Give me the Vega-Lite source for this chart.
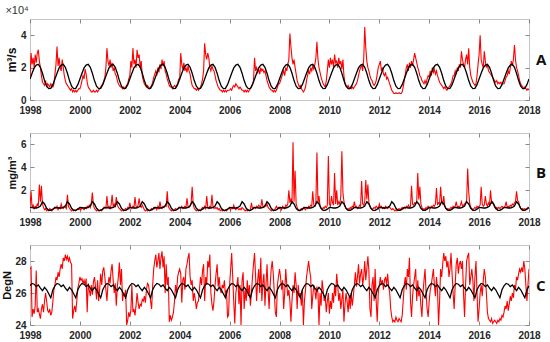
{
"$schema":"https://vega.github.io/schema/vega-lite/v6.json",
"background":"white",
"padding":{"left":1,"top":4,"right":0,"bottom":0},
"config":{"view":{"stroke":"#c4c4c4","strokeWidth":1},"font":"Liberation Sans",
"axis":{"grid":false,"domain":false,"tickColor":"#888","tickSize":-4,"labelFontSize":10,"labelFontWeight":"bold","labelColor":"#262626","labelFlush":false,"labelOverlap":false,"labelBound":false,"titleColor":"#111","titleFontWeight":"bold"},
"axisX":{"labelPadding":9},"axisY":{"labelPadding":8}},
"datasets":{
"red":[
{"t":1998,"a":1.3,"b":0.6,"c":27.5},{"t":1998.042,"a":2.9,"b":1.9,"c":27.6},{"t":1998.083,"a":2.2,"b":0.5,"c":24.5},{"t":1998.125,"a":2.6,"b":0.7,"c":25.0},{"t":1998.167,"a":2.0,"b":0.4,"c":24.7},{"t":1998.208,"a":2.8,"b":0.6,"c":25.2},{"t":1998.25,"a":2.3,"b":0.5,"c":27.4},{"t":1998.292,"a":2.9,"b":0.8,"c":24.8},{"t":1998.333,"a":3.1,"b":0.6,"c":25.0},{"t":1998.375,"a":2.4,"b":2.5,"c":24.7},{"t":1998.417,"a":2.0,"b":1.0,"c":24.4},{"t":1998.458,"a":1.5,"b":2.4,"c":25.0},{"t":1998.5,"a":1.1,"b":0.8,"c":25.3},{"t":1998.542,"a":1.0,"b":0.5,"c":24.8},{"t":1998.583,"a":0.9,"b":0.3,"c":25.5},{"t":1998.625,"a":1.2,"b":0.4,"c":26.0},{"t":1998.667,"a":0.8,"b":0.2,"c":25.5},{"t":1998.708,"a":1.0,"b":0.3,"c":24.9},{"t":1998.75,"a":0.9,"b":0.2,"c":24.8},{"t":1998.792,"a":0.8,"b":0.4,"c":25.0},{"t":1998.833,"a":1.0,"b":0.3,"c":24.6},{"t":1998.875,"a":0.9,"b":0.2,"c":24.8},{"t":1998.917,"a":0.8,"b":0.3,"c":25.5},{"t":1998.958,"a":1.0,"b":0.4,"c":26.2},
{"t":1999,"a":1.6,"b":0.5,"c":26.5},{"t":1999.042,"a":2.2,"b":0.4,"c":27.0},{"t":1999.083,"a":3.3,"b":0.6,"c":26.8},{"t":1999.125,"a":2.1,"b":0.3,"c":27.3},{"t":1999.167,"a":2.6,"b":0.5,"c":27.0},{"t":1999.208,"a":2.0,"b":0.4,"c":27.5},{"t":1999.25,"a":1.8,"b":0.8,"c":27.8},{"t":1999.292,"a":2.5,"b":0.5,"c":27.5},{"t":1999.333,"a":2.0,"b":0.4,"c":28.2},{"t":1999.375,"a":1.5,"b":0.6,"c":28.0},{"t":1999.417,"a":1.2,"b":0.5,"c":28.4},{"t":1999.458,"a":1.0,"b":0.4,"c":28.1},{"t":1999.5,"a":0.9,"b":1.6,"c":28.3},{"t":1999.542,"a":0.8,"b":0.6,"c":28.0},{"t":1999.583,"a":0.7,"b":0.4,"c":28.2},{"t":1999.625,"a":0.6,"b":0.3,"c":27.9},{"t":1999.667,"a":0.7,"b":0.2,"c":27.8},{"t":1999.708,"a":0.5,"b":0.3,"c":24.4},{"t":1999.75,"a":0.6,"b":0.2,"c":24.9},{"t":1999.792,"a":0.5,"b":0.3,"c":25.2},{"t":1999.833,"a":0.6,"b":0.2,"c":24.8},{"t":1999.875,"a":0.5,"b":0.3,"c":25.5},{"t":1999.917,"a":0.6,"b":0.4,"c":26.3},{"t":1999.958,"a":0.7,"b":0.3,"c":26.6},
{"t":2000,"a":0.7,"b":0.4,"c":27.0},{"t":2000.042,"a":0.9,"b":0.3,"c":26.8},{"t":2000.083,"a":1.2,"b":0.5,"c":26.9},{"t":2000.125,"a":1.5,"b":0.4,"c":26.6},{"t":2000.167,"a":1.3,"b":0.3,"c":26.8},{"t":2000.208,"a":1.9,"b":0.5,"c":26.5},{"t":2000.25,"a":1.6,"b":0.4,"c":26.9},{"t":2000.292,"a":1.1,"b":0.6,"c":24.8},{"t":2000.333,"a":0.8,"b":0.5,"c":26.6},{"t":2000.375,"a":0.7,"b":0.7,"c":26.2},{"t":2000.417,"a":0.6,"b":0.5,"c":25.8},{"t":2000.458,"a":0.5,"b":0.9,"c":26.5},{"t":2000.5,"a":0.5,"b":1.8,"c":25.9},{"t":2000.542,"a":0.6,"b":0.7,"c":26.7},{"t":2000.583,"a":0.5,"b":0.4,"c":27.0},{"t":2000.625,"a":0.5,"b":0.3,"c":26.4},{"t":2000.667,"a":0.6,"b":0.2,"c":25.6},{"t":2000.708,"a":0.5,"b":0.3,"c":26.8},{"t":2000.75,"a":0.6,"b":0.2,"c":25.5},{"t":2000.792,"a":0.7,"b":0.2,"c":26.2},{"t":2000.833,"a":0.8,"b":0.3,"c":27.2},{"t":2000.875,"a":0.9,"b":0.2,"c":26.5},{"t":2000.917,"a":1.0,"b":0.4,"c":27.4},{"t":2000.958,"a":1.2,"b":0.5,"c":27.6},
{"t":2001,"a":1.4,"b":0.5,"c":27.0},{"t":2001.042,"a":2.0,"b":0.4,"c":26.2},{"t":2001.083,"a":3.2,"b":1.5,"c":25.5},{"t":2001.125,"a":2.4,"b":0.5,"c":26.5},{"t":2001.167,"a":2.1,"b":0.6,"c":27.0},{"t":2001.208,"a":2.5,"b":0.4,"c":26.6},{"t":2001.25,"a":2.0,"b":0.7,"c":27.4},{"t":2001.292,"a":2.3,"b":1.6,"c":27.8},{"t":2001.333,"a":1.8,"b":0.6,"c":26.8},{"t":2001.375,"a":2.0,"b":0.8,"c":26.0},{"t":2001.417,"a":1.6,"b":0.5,"c":26.6},{"t":2001.458,"a":1.5,"b":1.4,"c":25.2},{"t":2001.5,"a":1.2,"b":0.7,"c":26.4},{"t":2001.542,"a":1.0,"b":0.5,"c":27.0},{"t":2001.583,"a":0.9,"b":0.4,"c":27.9},{"t":2001.625,"a":0.8,"b":0.3,"c":26.5},{"t":2001.667,"a":0.8,"b":0.2,"c":27.5},{"t":2001.708,"a":0.7,"b":0.3,"c":25.5},{"t":2001.75,"a":0.8,"b":0.2,"c":26.0},{"t":2001.792,"a":0.7,"b":0.3,"c":25.8},{"t":2001.833,"a":0.8,"b":0.4,"c":26.2},{"t":2001.875,"a":0.9,"b":0.3,"c":24.0},{"t":2001.917,"a":1.0,"b":0.5,"c":24.3},{"t":2001.958,"a":1.3,"b":0.4,"c":24.8},
{"t":2002,"a":1.5,"b":0.9,"c":24.5},{"t":2002.042,"a":2.4,"b":0.5,"c":24.9},{"t":2002.083,"a":2.0,"b":0.4,"c":26.5},{"t":2002.125,"a":3.2,"b":0.6,"c":24.8},{"t":2002.167,"a":2.2,"b":0.5,"c":25.0},{"t":2002.208,"a":2.5,"b":1.4,"c":24.6},{"t":2002.25,"a":2.0,"b":0.6,"c":25.2},{"t":2002.292,"a":3.1,"b":0.5,"c":26.0},{"t":2002.333,"a":2.6,"b":0.7,"c":25.4},{"t":2002.375,"a":2.8,"b":1.3,"c":25.0},{"t":2002.417,"a":2.0,"b":0.6,"c":25.3},{"t":2002.458,"a":2.4,"b":0.5,"c":25.2},{"t":2002.5,"a":1.5,"b":0.7,"c":25.6},{"t":2002.542,"a":1.2,"b":0.5,"c":25.5},{"t":2002.583,"a":1.0,"b":0.3,"c":25.8},{"t":2002.625,"a":0.9,"b":0.2,"c":25.4},{"t":2002.667,"a":0.8,"b":0.3,"c":26.2},{"t":2002.708,"a":0.9,"b":0.2,"c":26.6},{"t":2002.75,"a":0.8,"b":0.3,"c":26.5},{"t":2002.792,"a":0.7,"b":0.2,"c":26.0},{"t":2002.833,"a":0.8,"b":0.3,"c":25.5},{"t":2002.875,"a":0.9,"b":0.4,"c":25.0},{"t":2002.917,"a":1.1,"b":0.3,"c":26.5},{"t":2002.958,"a":1.4,"b":0.5,"c":27.5},
{"t":2003,"a":1.6,"b":0.4,"c":28.0},{"t":2003.042,"a":1.8,"b":0.5,"c":28.4},{"t":2003.083,"a":1.5,"b":0.3,"c":27.6},{"t":2003.125,"a":2.0,"b":0.6,"c":28.0},{"t":2003.167,"a":1.7,"b":0.4,"c":28.5},{"t":2003.208,"a":2.2,"b":1.0,"c":27.5},{"t":2003.25,"a":1.9,"b":0.5,"c":28.2},{"t":2003.292,"a":2.5,"b":0.4,"c":28.6},{"t":2003.333,"a":2.1,"b":0.6,"c":27.6},{"t":2003.375,"a":2.4,"b":0.5,"c":28.3},{"t":2003.417,"a":1.8,"b":0.7,"c":26.0},{"t":2003.458,"a":1.6,"b":0.6,"c":27.8},{"t":2003.5,"a":1.3,"b":1.9,"c":26.5},{"t":2003.542,"a":1.1,"b":0.6,"c":27.0},{"t":2003.583,"a":0.9,"b":0.4,"c":24.2},{"t":2003.625,"a":0.8,"b":0.3,"c":24.6},{"t":2003.667,"a":0.8,"b":0.2,"c":24.3},{"t":2003.708,"a":0.7,"b":0.3,"c":24.5},{"t":2003.75,"a":0.8,"b":0.2,"c":24.8},{"t":2003.792,"a":0.9,"b":0.3,"c":25.5},{"t":2003.833,"a":0.8,"b":0.4,"c":26.5},{"t":2003.875,"a":0.9,"b":0.3,"c":26.0},{"t":2003.917,"a":1.0,"b":0.4,"c":27.0},{"t":2003.958,"a":1.3,"b":0.5,"c":27.3},
{"t":2004,"a":1.3,"b":0.5,"c":27.5},{"t":2004.042,"a":2.9,"b":0.4,"c":27.2},{"t":2004.083,"a":2.2,"b":0.6,"c":25.4},{"t":2004.125,"a":1.9,"b":0.4,"c":26.8},{"t":2004.167,"a":2.3,"b":0.5,"c":27.0},{"t":2004.208,"a":1.8,"b":0.6,"c":26.2},{"t":2004.25,"a":2.0,"b":0.5,"c":27.5},{"t":2004.292,"a":1.7,"b":1.3,"c":27.8},{"t":2004.333,"a":2.1,"b":0.6,"c":28.2},{"t":2004.375,"a":1.8,"b":0.5,"c":28.5},{"t":2004.417,"a":1.6,"b":0.7,"c":27.0},{"t":2004.458,"a":1.2,"b":0.9,"c":26.5},{"t":2004.5,"a":0.9,"b":2.3,"c":26.8},{"t":2004.542,"a":0.8,"b":0.8,"c":25.5},{"t":2004.583,"a":0.7,"b":0.4,"c":26.0},{"t":2004.625,"a":0.7,"b":0.3,"c":25.6},{"t":2004.667,"a":0.6,"b":0.2,"c":25.0},{"t":2004.708,"a":0.7,"b":0.3,"c":25.4},{"t":2004.75,"a":0.6,"b":0.2,"c":25.5},{"t":2004.792,"a":0.7,"b":0.3,"c":26.2},{"t":2004.833,"a":0.8,"b":0.2,"c":27.0},{"t":2004.875,"a":1.0,"b":0.4,"c":26.5},{"t":2004.917,"a":1.3,"b":0.5,"c":27.4},{"t":2004.958,"a":1.8,"b":0.4,"c":27.8},
{"t":2005,"a":3.5,"b":0.6,"c":25.5},{"t":2005.042,"a":2.8,"b":0.4,"c":27.0},{"t":2005.083,"a":2.5,"b":1.5,"c":26.5},{"t":2005.125,"a":2.9,"b":0.5,"c":28.0},{"t":2005.167,"a":2.6,"b":0.4,"c":27.6},{"t":2005.208,"a":2.0,"b":0.6,"c":28.4},{"t":2005.25,"a":1.8,"b":0.5,"c":26.0},{"t":2005.292,"a":2.1,"b":1.6,"c":25.3},{"t":2005.333,"a":1.9,"b":0.6,"c":24.9},{"t":2005.375,"a":1.8,"b":0.4,"c":25.5},{"t":2005.417,"a":1.5,"b":0.5,"c":26.5},{"t":2005.458,"a":1.2,"b":0.4,"c":27.2},{"t":2005.5,"a":1.0,"b":0.5,"c":27.8},{"t":2005.542,"a":0.8,"b":0.3,"c":26.4},{"t":2005.583,"a":0.7,"b":0.4,"c":27.0},{"t":2005.625,"a":0.6,"b":0.2,"c":26.2},{"t":2005.667,"a":0.6,"b":0.3,"c":26.0},{"t":2005.708,"a":0.5,"b":0.2,"c":26.5},{"t":2005.75,"a":0.6,"b":0.3,"c":26.3},{"t":2005.792,"a":0.5,"b":0.2,"c":26.8},{"t":2005.833,"a":0.6,"b":0.3,"c":25.8},{"t":2005.875,"a":0.5,"b":0.2,"c":26.2},{"t":2005.917,"a":0.6,"b":0.3,"c":24.5},{"t":2005.958,"a":0.6,"b":0.4,"c":24.6},
{"t":2006,"a":0.6,"b":0.4,"c":26.5},{"t":2006.042,"a":0.7,"b":0.3,"c":27.5},{"t":2006.083,"a":0.6,"b":0.5,"c":28.5},{"t":2006.125,"a":0.8,"b":0.4,"c":27.0},{"t":2006.167,"a":0.9,"b":0.7,"c":25.4},{"t":2006.208,"a":0.8,"b":0.4,"c":24.1},{"t":2006.25,"a":1.0,"b":0.3,"c":26.0},{"t":2006.292,"a":0.9,"b":0.5,"c":26.5},{"t":2006.333,"a":0.8,"b":0.4,"c":27.0},{"t":2006.375,"a":0.7,"b":0.3,"c":25.3},{"t":2006.417,"a":0.8,"b":0.4,"c":26.5},{"t":2006.458,"a":0.7,"b":0.3,"c":24.0},{"t":2006.5,"a":0.6,"b":0.5,"c":26.8},{"t":2006.542,"a":0.6,"b":0.4,"c":27.3},{"t":2006.583,"a":0.5,"b":0.3,"c":25.0},{"t":2006.625,"a":0.6,"b":0.2,"c":26.2},{"t":2006.667,"a":0.5,"b":0.3,"c":25.5},{"t":2006.708,"a":0.6,"b":0.2,"c":26.8},{"t":2006.75,"a":0.5,"b":0.3,"c":25.8},{"t":2006.792,"a":0.6,"b":0.2,"c":26.5},{"t":2006.833,"a":0.7,"b":0.3,"c":25.2},{"t":2006.875,"a":0.8,"b":0.9,"c":26.0},{"t":2006.917,"a":1.0,"b":0.4,"c":27.0},{"t":2006.958,"a":1.2,"b":0.5,"c":27.8},
{"t":2007,"a":2.6,"b":0.5,"c":28.5},{"t":2007.042,"a":1.8,"b":0.4,"c":27.0},{"t":2007.083,"a":2.0,"b":0.6,"c":25.5},{"t":2007.125,"a":1.7,"b":0.5,"c":26.8},{"t":2007.167,"a":1.9,"b":0.7,"c":27.5},{"t":2007.208,"a":1.6,"b":0.6,"c":26.0},{"t":2007.25,"a":2.0,"b":0.5,"c":28.2},{"t":2007.292,"a":1.8,"b":1.2,"c":25.5},{"t":2007.333,"a":1.9,"b":0.6,"c":26.6},{"t":2007.375,"a":1.7,"b":0.5,"c":27.2},{"t":2007.417,"a":1.8,"b":0.7,"c":25.2},{"t":2007.458,"a":1.5,"b":0.6,"c":26.5},{"t":2007.5,"a":1.2,"b":0.8,"c":27.8},{"t":2007.542,"a":1.0,"b":0.5,"c":26.2},{"t":2007.583,"a":0.8,"b":0.4,"c":25.0},{"t":2007.625,"a":0.7,"b":0.3,"c":26.5},{"t":2007.667,"a":0.6,"b":0.2,"c":27.5},{"t":2007.708,"a":0.6,"b":0.3,"c":28.0},{"t":2007.75,"a":0.5,"b":0.2,"c":27.2},{"t":2007.792,"a":0.6,"b":0.3,"c":26.0},{"t":2007.833,"a":0.5,"b":0.4,"c":24.8},{"t":2007.875,"a":0.6,"b":0.6,"c":24.5},{"t":2007.917,"a":0.8,"b":0.4,"c":26.5},{"t":2007.958,"a":1.0,"b":0.5,"c":27.0},
{"t":2008,"a":1.0,"b":0.4,"c":27.5},{"t":2008.042,"a":1.2,"b":0.5,"c":27.0},{"t":2008.083,"a":1.4,"b":0.3,"c":26.2},{"t":2008.125,"a":1.6,"b":0.6,"c":26.8},{"t":2008.167,"a":1.8,"b":0.5,"c":25.0},{"t":2008.208,"a":1.5,"b":0.4,"c":26.0},{"t":2008.25,"a":2.0,"b":0.7,"c":27.5},{"t":2008.292,"a":1.8,"b":0.6,"c":26.5},{"t":2008.333,"a":2.2,"b":0.8,"c":25.8},{"t":2008.375,"a":2.5,"b":2.0,"c":26.2},{"t":2008.417,"a":4.1,"b":0.9,"c":25.5},{"t":2008.458,"a":3.3,"b":1.2,"c":24.2},{"t":2008.5,"a":2.6,"b":0.8,"c":25.5},{"t":2008.542,"a":2.2,"b":6.2,"c":26.5},{"t":2008.583,"a":2.5,"b":1.0,"c":26.0},{"t":2008.625,"a":2.0,"b":3.7,"c":27.3},{"t":2008.667,"a":1.6,"b":0.8,"c":26.5},{"t":2008.708,"a":1.2,"b":0.5,"c":25.0},{"t":2008.75,"a":1.0,"b":0.3,"c":26.5},{"t":2008.792,"a":0.8,"b":0.2,"c":25.8},{"t":2008.833,"a":0.9,"b":0.3,"c":26.0},{"t":2008.875,"a":0.7,"b":0.4,"c":25.2},{"t":2008.917,"a":0.6,"b":0.3,"c":26.2},{"t":2008.958,"a":0.5,"b":0.5,"c":24.0},
{"t":2009,"a":0.6,"b":0.4,"c":25.5},{"t":2009.042,"a":0.8,"b":0.3,"c":26.2},{"t":2009.083,"a":1.2,"b":0.5,"c":27.0},{"t":2009.125,"a":1.5,"b":0.4,"c":27.5},{"t":2009.167,"a":1.8,"b":0.6,"c":28.0},{"t":2009.208,"a":1.6,"b":0.5,"c":27.4},{"t":2009.25,"a":2.0,"b":0.7,"c":27.0},{"t":2009.292,"a":1.8,"b":0.6,"c":25.0},{"t":2009.333,"a":2.1,"b":1.9,"c":25.8},{"t":2009.375,"a":1.9,"b":0.7,"c":26.5},{"t":2009.417,"a":2.2,"b":0.6,"c":26.2},{"t":2009.458,"a":2.6,"b":0.8,"c":25.6},{"t":2009.5,"a":3.6,"b":5.3,"c":26.4},{"t":2009.542,"a":2.5,"b":0.9,"c":26.0},{"t":2009.583,"a":2.0,"b":1.5,"c":24.0},{"t":2009.625,"a":1.7,"b":0.6,"c":26.0},{"t":2009.667,"a":1.4,"b":0.4,"c":25.2},{"t":2009.708,"a":1.2,"b":0.3,"c":26.8},{"t":2009.75,"a":1.0,"b":0.5,"c":26.2},{"t":2009.792,"a":0.9,"b":0.4,"c":25.5},{"t":2009.833,"a":0.8,"b":0.6,"c":25.8},{"t":2009.875,"a":1.2,"b":0.5,"c":24.8},{"t":2009.917,"a":1.8,"b":0.7,"c":25.5},{"t":2009.958,"a":2.5,"b":5.0,"c":26.0},
{"t":2010,"a":2.0,"b":0.8,"c":24.7},{"t":2010.042,"a":2.6,"b":0.6,"c":25.5},{"t":2010.083,"a":2.2,"b":1.5,"c":25.0},{"t":2010.125,"a":2.5,"b":0.9,"c":26.0},{"t":2010.167,"a":2.0,"b":0.7,"c":25.4},{"t":2010.208,"a":2.8,"b":3.5,"c":26.5},{"t":2010.25,"a":2.3,"b":0.8,"c":25.8},{"t":2010.292,"a":2.4,"b":2.0,"c":27.2},{"t":2010.333,"a":2.0,"b":0.7,"c":26.5},{"t":2010.375,"a":2.6,"b":1.0,"c":25.5},{"t":2010.417,"a":2.2,"b":0.8,"c":26.0},{"t":2010.458,"a":2.4,"b":1.5,"c":25.0},{"t":2010.5,"a":1.9,"b":5.4,"c":25.6},{"t":2010.542,"a":2.5,"b":1.8,"c":26.2},{"t":2010.583,"a":1.5,"b":1.0,"c":24.2},{"t":2010.625,"a":1.0,"b":0.6,"c":25.3},{"t":2010.667,"a":0.9,"b":0.4,"c":26.0},{"t":2010.708,"a":0.8,"b":0.3,"c":25.5},{"t":2010.75,"a":0.9,"b":0.4,"c":24.8},{"t":2010.792,"a":0.7,"b":0.3,"c":25.8},{"t":2010.833,"a":0.8,"b":0.5,"c":25.0},{"t":2010.875,"a":0.7,"b":0.4,"c":26.0},{"t":2010.917,"a":0.8,"b":0.6,"c":25.2},{"t":2010.958,"a":0.7,"b":0.5,"c":25.8},
{"t":2011,"a":0.8,"b":1.0,"c":26.5},{"t":2011.042,"a":0.9,"b":0.5,"c":27.3},{"t":2011.083,"a":1.0,"b":0.6,"c":26.4},{"t":2011.125,"a":1.2,"b":0.4,"c":27.0},{"t":2011.167,"a":1.5,"b":0.5,"c":27.8},{"t":2011.208,"a":1.8,"b":0.7,"c":26.6},{"t":2011.25,"a":2.0,"b":0.6,"c":27.2},{"t":2011.292,"a":2.2,"b":2.8,"c":27.5},{"t":2011.333,"a":1.8,"b":0.8,"c":26.5},{"t":2011.375,"a":2.5,"b":0.7,"c":27.0},{"t":2011.417,"a":4.5,"b":1.0,"c":28.0},{"t":2011.458,"a":3.2,"b":2.9,"c":26.8},{"t":2011.5,"a":2.4,"b":1.2,"c":27.5},{"t":2011.542,"a":2.0,"b":2.5,"c":28.3},{"t":2011.583,"a":1.8,"b":0.9,"c":27.4},{"t":2011.625,"a":1.5,"b":0.6,"c":25.0},{"t":2011.667,"a":1.3,"b":0.4,"c":24.5},{"t":2011.708,"a":1.2,"b":0.3,"c":26.5},{"t":2011.75,"a":1.0,"b":0.4,"c":27.0},{"t":2011.792,"a":0.9,"b":0.5,"c":25.5},{"t":2011.833,"a":1.0,"b":0.4,"c":27.5},{"t":2011.875,"a":1.2,"b":0.6,"c":25.5},{"t":2011.917,"a":1.6,"b":0.5,"c":24.2},{"t":2011.958,"a":2.0,"b":0.4,"c":26.0},
{"t":2012,"a":2.2,"b":0.8,"c":26.5},{"t":2012.042,"a":2.4,"b":0.5,"c":27.0},{"t":2012.083,"a":1.8,"b":0.6,"c":26.5},{"t":2012.125,"a":2.0,"b":0.4,"c":26.8},{"t":2012.167,"a":1.6,"b":0.5,"c":26.2},{"t":2012.208,"a":1.5,"b":0.4,"c":26.8},{"t":2012.25,"a":1.7,"b":0.6,"c":27.0},{"t":2012.292,"a":1.3,"b":0.5,"c":26.5},{"t":2012.333,"a":1.4,"b":0.4,"c":27.2},{"t":2012.375,"a":1.2,"b":0.5,"c":26.4},{"t":2012.417,"a":1.0,"b":0.5,"c":26.0},{"t":2012.458,"a":0.8,"b":0.4,"c":25.0},{"t":2012.5,"a":0.6,"b":0.3,"c":24.5},{"t":2012.542,"a":0.5,"b":0.4,"c":24.2},{"t":2012.583,"a":0.4,"b":0.3,"c":24.3},{"t":2012.625,"a":0.4,"b":0.2,"c":24.2},{"t":2012.667,"a":0.45,"b":0.3,"c":24.5},{"t":2012.708,"a":0.4,"b":0.2,"c":24.3},{"t":2012.75,"a":0.4,"b":0.3,"c":24.2},{"t":2012.792,"a":0.45,"b":0.4,"c":24.4},{"t":2012.833,"a":0.4,"b":0.3,"c":24.3},{"t":2012.875,"a":0.4,"b":0.4,"c":24.2},{"t":2012.917,"a":0.5,"b":0.5,"c":24.6},{"t":2012.958,"a":0.8,"b":0.4,"c":25.5},
{"t":2013,"a":1.2,"b":0.5,"c":26.5},{"t":2013.042,"a":1.6,"b":0.4,"c":27.0},{"t":2013.083,"a":2.0,"b":0.6,"c":26.2},{"t":2013.125,"a":2.2,"b":0.5,"c":27.5},{"t":2013.167,"a":1.8,"b":0.7,"c":27.0},{"t":2013.208,"a":2.3,"b":0.5,"c":28.2},{"t":2013.25,"a":2.0,"b":0.6,"c":25.5},{"t":2013.292,"a":2.4,"b":2.4,"c":24.5},{"t":2013.333,"a":2.1,"b":0.8,"c":25.8},{"t":2013.375,"a":2.5,"b":0.7,"c":26.5},{"t":2013.417,"a":2.9,"b":0.9,"c":27.0},{"t":2013.458,"a":2.6,"b":0.8,"c":27.5},{"t":2013.5,"a":2.3,"b":1.0,"c":25.5},{"t":2013.542,"a":2.0,"b":3.5,"c":26.8},{"t":2013.583,"a":1.8,"b":1.2,"c":25.8},{"t":2013.625,"a":1.5,"b":2.3,"c":26.2},{"t":2013.667,"a":1.4,"b":0.8,"c":25.2},{"t":2013.708,"a":1.2,"b":0.5,"c":24.5},{"t":2013.75,"a":1.1,"b":0.3,"c":26.0},{"t":2013.792,"a":1.0,"b":0.4,"c":26.8},{"t":2013.833,"a":1.2,"b":0.3,"c":27.5},{"t":2013.875,"a":1.0,"b":0.5,"c":26.0},{"t":2013.917,"a":1.3,"b":0.4,"c":25.0},{"t":2013.958,"a":1.5,"b":0.6,"c":24.5},
{"t":2014,"a":1.4,"b":0.5,"c":25.5},{"t":2014.042,"a":1.8,"b":0.4,"c":26.2},{"t":2014.083,"a":1.5,"b":0.6,"c":26.5},{"t":2014.125,"a":2.0,"b":0.5,"c":27.0},{"t":2014.167,"a":1.7,"b":0.7,"c":27.5},{"t":2014.208,"a":1.9,"b":0.6,"c":26.5},{"t":2014.25,"a":1.6,"b":0.8,"c":25.8},{"t":2014.292,"a":1.8,"b":2.2,"c":27.0},{"t":2014.333,"a":1.5,"b":0.7,"c":26.2},{"t":2014.375,"a":1.3,"b":0.9,"c":24.0},{"t":2014.417,"a":1.1,"b":0.8,"c":25.5},{"t":2014.458,"a":1.0,"b":2.3,"c":27.5},{"t":2014.5,"a":0.9,"b":1.0,"c":27.0},{"t":2014.542,"a":0.8,"b":0.8,"c":27.8},{"t":2014.583,"a":0.7,"b":1.5,"c":28.5},{"t":2014.625,"a":0.8,"b":0.6,"c":28.0},{"t":2014.667,"a":0.7,"b":0.4,"c":28.3},{"t":2014.708,"a":0.6,"b":0.3,"c":27.6},{"t":2014.75,"a":0.7,"b":0.4,"c":28.0},{"t":2014.792,"a":0.8,"b":0.3,"c":27.0},{"t":2014.833,"a":0.9,"b":0.4,"c":27.5},{"t":2014.875,"a":1.0,"b":0.5,"c":28.5},{"t":2014.917,"a":1.2,"b":0.4,"c":27.2},{"t":2014.958,"a":1.5,"b":0.6,"c":26.0},
{"t":2015,"a":1.5,"b":0.5,"c":25.0},{"t":2015.042,"a":1.8,"b":0.6,"c":26.5},{"t":2015.083,"a":1.6,"b":1.0,"c":27.8},{"t":2015.125,"a":2.0,"b":0.5,"c":28.2},{"t":2015.167,"a":1.8,"b":0.6,"c":27.2},{"t":2015.208,"a":2.2,"b":0.5,"c":27.8},{"t":2015.25,"a":2.0,"b":0.7,"c":28.0},{"t":2015.292,"a":3.0,"b":1.0,"c":27.5},{"t":2015.333,"a":2.5,"b":0.6,"c":28.0},{"t":2015.375,"a":2.2,"b":0.7,"c":26.0},{"t":2015.417,"a":2.0,"b":0.8,"c":24.5},{"t":2015.458,"a":2.5,"b":0.9,"c":26.5},{"t":2015.5,"a":2.8,"b":1.1,"c":28.0},{"t":2015.542,"a":2.2,"b":3.9,"c":28.3},{"t":2015.583,"a":3.2,"b":1.9,"c":28.5},{"t":2015.625,"a":2.0,"b":0.8,"c":26.5},{"t":2015.667,"a":1.5,"b":0.5,"c":27.0},{"t":2015.708,"a":1.3,"b":0.4,"c":27.5},{"t":2015.75,"a":1.1,"b":0.3,"c":26.8},{"t":2015.792,"a":1.0,"b":0.4,"c":25.5},{"t":2015.833,"a":0.9,"b":0.5,"c":27.0},{"t":2015.875,"a":1.0,"b":0.4,"c":28.0},{"t":2015.917,"a":1.5,"b":0.6,"c":26.0},{"t":2015.958,"a":2.2,"b":0.5,"c":24.2},
{"t":2016,"a":2.8,"b":0.6,"c":25.0},{"t":2016.042,"a":4.0,"b":0.7,"c":26.0},{"t":2016.083,"a":2.5,"b":2.3,"c":26.5},{"t":2016.125,"a":2.2,"b":0.8,"c":25.8},{"t":2016.167,"a":2.0,"b":0.6,"c":26.8},{"t":2016.208,"a":3.0,"b":0.7,"c":27.5},{"t":2016.25,"a":2.4,"b":1.5,"c":27.0},{"t":2016.292,"a":2.0,"b":0.8,"c":26.0},{"t":2016.333,"a":2.2,"b":0.6,"c":24.8},{"t":2016.375,"a":1.8,"b":0.9,"c":24.4},{"t":2016.417,"a":1.7,"b":0.7,"c":24.3},{"t":2016.458,"a":1.6,"b":2.0,"c":24.2},{"t":2016.5,"a":1.5,"b":0.9,"c":24.4},{"t":2016.542,"a":1.4,"b":1.0,"c":24.1},{"t":2016.583,"a":1.3,"b":0.7,"c":24.2},{"t":2016.625,"a":1.2,"b":0.5,"c":24.3},{"t":2016.667,"a":1.1,"b":0.4,"c":24.2},{"t":2016.708,"a":1.2,"b":0.5,"c":24.1},{"t":2016.75,"a":1.0,"b":0.4,"c":24.3},{"t":2016.792,"a":1.1,"b":0.5,"c":24.2},{"t":2016.833,"a":1.0,"b":0.4,"c":24.4},{"t":2016.875,"a":1.1,"b":0.5,"c":24.3},{"t":2016.917,"a":1.0,"b":0.6,"c":24.6},{"t":2016.958,"a":1.0,"b":0.5,"c":24.5},
{"t":2017,"a":1.0,"b":0.5,"c":24.8},{"t":2017.042,"a":1.2,"b":0.6,"c":25.2},{"t":2017.083,"a":1.4,"b":1.0,"c":25.0},{"t":2017.125,"a":1.5,"b":0.5,"c":25.5},{"t":2017.167,"a":1.8,"b":0.6,"c":24.9},{"t":2017.208,"a":1.6,"b":0.5,"c":25.3},{"t":2017.25,"a":2.0,"b":0.7,"c":25.8},{"t":2017.292,"a":2.4,"b":0.6,"c":25.5},{"t":2017.333,"a":2.1,"b":0.8,"c":26.0},{"t":2017.375,"a":2.5,"b":0.7,"c":25.7},{"t":2017.417,"a":3.4,"b":0.9,"c":26.5},{"t":2017.458,"a":2.5,"b":1.0,"c":26.2},{"t":2017.5,"a":2.0,"b":1.9,"c":27.0},{"t":2017.542,"a":1.8,"b":1.1,"c":26.8},{"t":2017.583,"a":1.5,"b":1.0,"c":27.2},{"t":2017.625,"a":1.2,"b":0.6,"c":27.5},{"t":2017.667,"a":1.0,"b":0.4,"c":27.3},{"t":2017.708,"a":0.9,"b":0.3,"c":27.6},{"t":2017.75,"a":0.8,"b":0.4,"c":27.3},{"t":2017.792,"a":0.7,"b":0.3,"c":28.0},{"t":2017.833,"a":0.8,"b":0.4,"c":27.5},{"t":2017.875,"a":0.7,"b":0.3,"c":26.5},{"t":2017.917,"a":0.6,"b":0.4,"c":25.5},{"t":2017.958,"a":0.7,"b":0.5,"c":26.5},
{"t":2018,"a":0.6,"b":0.4,"c":27.5}
],
"black":[
{"t":1998,"a":1.3,"b":0.5,"c":26.45},{"t":1998.083,"a":1.65,"b":0.48,"c":26.6},{"t":1998.167,"a":1.98,"b":0.45,"c":26.55},{"t":1998.25,"a":2.16,"b":0.45,"c":26.4},{"t":1998.333,"a":2.2,"b":0.5,"c":26.5},{"t":1998.417,"a":2.02,"b":0.62,"c":26.3},{"t":1998.5,"a":1.65,"b":1.0,"c":26.15},{"t":1998.583,"a":1.2,"b":0.8,"c":26.35},{"t":1998.667,"a":0.85,"b":0.42,"c":26.2},{"t":1998.75,"a":0.7,"b":0.25,"c":25.95},{"t":1998.833,"a":0.72,"b":0.25,"c":25.7},{"t":1998.917,"a":0.95,"b":0.35,"c":26.2},
{"t":1999,"a":1.3,"b":0.5,"c":26.45},{"t":1999.083,"a":1.65,"b":0.48,"c":26.6},{"t":1999.167,"a":1.98,"b":0.45,"c":26.55},{"t":1999.25,"a":2.16,"b":0.45,"c":26.4},{"t":1999.333,"a":2.2,"b":0.5,"c":26.5},{"t":1999.417,"a":2.02,"b":0.62,"c":26.3},{"t":1999.5,"a":1.65,"b":1.0,"c":26.15},{"t":1999.583,"a":1.2,"b":0.8,"c":26.35},{"t":1999.667,"a":0.85,"b":0.42,"c":26.2},{"t":1999.75,"a":0.7,"b":0.25,"c":25.95},{"t":1999.833,"a":0.72,"b":0.25,"c":25.7},{"t":1999.917,"a":0.95,"b":0.35,"c":26.2},
{"t":2000,"a":1.3,"b":0.5,"c":26.45},{"t":2000.083,"a":1.65,"b":0.48,"c":26.6},{"t":2000.167,"a":1.98,"b":0.45,"c":26.55},{"t":2000.25,"a":2.16,"b":0.45,"c":26.4},{"t":2000.333,"a":2.2,"b":0.5,"c":26.5},{"t":2000.417,"a":2.02,"b":0.62,"c":26.3},{"t":2000.5,"a":1.65,"b":1.0,"c":26.15},{"t":2000.583,"a":1.2,"b":0.8,"c":26.35},{"t":2000.667,"a":0.85,"b":0.42,"c":26.2},{"t":2000.75,"a":0.7,"b":0.25,"c":25.95},{"t":2000.833,"a":0.72,"b":0.25,"c":25.7},{"t":2000.917,"a":0.95,"b":0.35,"c":26.2},
{"t":2001,"a":1.3,"b":0.5,"c":26.45},{"t":2001.083,"a":1.65,"b":0.48,"c":26.6},{"t":2001.167,"a":1.98,"b":0.45,"c":26.55},{"t":2001.25,"a":2.16,"b":0.45,"c":26.4},{"t":2001.333,"a":2.2,"b":0.5,"c":26.5},{"t":2001.417,"a":2.02,"b":0.62,"c":26.3},{"t":2001.5,"a":1.65,"b":1.0,"c":26.15},{"t":2001.583,"a":1.2,"b":0.8,"c":26.35},{"t":2001.667,"a":0.85,"b":0.42,"c":26.2},{"t":2001.75,"a":0.7,"b":0.25,"c":25.95},{"t":2001.833,"a":0.72,"b":0.25,"c":25.7},{"t":2001.917,"a":0.95,"b":0.35,"c":26.2},
{"t":2002,"a":1.3,"b":0.5,"c":26.45},{"t":2002.083,"a":1.65,"b":0.48,"c":26.6},{"t":2002.167,"a":1.98,"b":0.45,"c":26.55},{"t":2002.25,"a":2.16,"b":0.45,"c":26.4},{"t":2002.333,"a":2.2,"b":0.5,"c":26.5},{"t":2002.417,"a":2.02,"b":0.62,"c":26.3},{"t":2002.5,"a":1.65,"b":1.0,"c":26.15},{"t":2002.583,"a":1.2,"b":0.8,"c":26.35},{"t":2002.667,"a":0.85,"b":0.42,"c":26.2},{"t":2002.75,"a":0.7,"b":0.25,"c":25.95},{"t":2002.833,"a":0.72,"b":0.25,"c":25.7},{"t":2002.917,"a":0.95,"b":0.35,"c":26.2},
{"t":2003,"a":1.3,"b":0.5,"c":26.45},{"t":2003.083,"a":1.65,"b":0.48,"c":26.6},{"t":2003.167,"a":1.98,"b":0.45,"c":26.55},{"t":2003.25,"a":2.16,"b":0.45,"c":26.4},{"t":2003.333,"a":2.2,"b":0.5,"c":26.5},{"t":2003.417,"a":2.02,"b":0.62,"c":26.3},{"t":2003.5,"a":1.65,"b":1.0,"c":26.15},{"t":2003.583,"a":1.2,"b":0.8,"c":26.35},{"t":2003.667,"a":0.85,"b":0.42,"c":26.2},{"t":2003.75,"a":0.7,"b":0.25,"c":25.95},{"t":2003.833,"a":0.72,"b":0.25,"c":25.7},{"t":2003.917,"a":0.95,"b":0.35,"c":26.2},
{"t":2004,"a":1.3,"b":0.5,"c":26.45},{"t":2004.083,"a":1.65,"b":0.48,"c":26.6},{"t":2004.167,"a":1.98,"b":0.45,"c":26.55},{"t":2004.25,"a":2.16,"b":0.45,"c":26.4},{"t":2004.333,"a":2.2,"b":0.5,"c":26.5},{"t":2004.417,"a":2.02,"b":0.62,"c":26.3},{"t":2004.5,"a":1.65,"b":1.0,"c":26.15},{"t":2004.583,"a":1.2,"b":0.8,"c":26.35},{"t":2004.667,"a":0.85,"b":0.42,"c":26.2},{"t":2004.75,"a":0.7,"b":0.25,"c":25.95},{"t":2004.833,"a":0.72,"b":0.25,"c":25.7},{"t":2004.917,"a":0.95,"b":0.35,"c":26.2},
{"t":2005,"a":1.3,"b":0.5,"c":26.45},{"t":2005.083,"a":1.65,"b":0.48,"c":26.6},{"t":2005.167,"a":1.98,"b":0.45,"c":26.55},{"t":2005.25,"a":2.16,"b":0.45,"c":26.4},{"t":2005.333,"a":2.2,"b":0.5,"c":26.5},{"t":2005.417,"a":2.02,"b":0.62,"c":26.3},{"t":2005.5,"a":1.65,"b":1.0,"c":26.15},{"t":2005.583,"a":1.2,"b":0.8,"c":26.35},{"t":2005.667,"a":0.85,"b":0.42,"c":26.2},{"t":2005.75,"a":0.7,"b":0.25,"c":25.95},{"t":2005.833,"a":0.72,"b":0.25,"c":25.7},{"t":2005.917,"a":0.95,"b":0.35,"c":26.2},
{"t":2006,"a":1.3,"b":0.5,"c":26.45},{"t":2006.083,"a":1.65,"b":0.48,"c":26.6},{"t":2006.167,"a":1.98,"b":0.45,"c":26.55},{"t":2006.25,"a":2.16,"b":0.45,"c":26.4},{"t":2006.333,"a":2.2,"b":0.5,"c":26.5},{"t":2006.417,"a":2.02,"b":0.62,"c":26.3},{"t":2006.5,"a":1.65,"b":1.0,"c":26.15},{"t":2006.583,"a":1.2,"b":0.8,"c":26.35},{"t":2006.667,"a":0.85,"b":0.42,"c":26.2},{"t":2006.75,"a":0.7,"b":0.25,"c":25.95},{"t":2006.833,"a":0.72,"b":0.25,"c":25.7},{"t":2006.917,"a":0.95,"b":0.35,"c":26.2},
{"t":2007,"a":1.3,"b":0.5,"c":26.45},{"t":2007.083,"a":1.65,"b":0.48,"c":26.6},{"t":2007.167,"a":1.98,"b":0.45,"c":26.55},{"t":2007.25,"a":2.16,"b":0.45,"c":26.4},{"t":2007.333,"a":2.2,"b":0.5,"c":26.5},{"t":2007.417,"a":2.02,"b":0.62,"c":26.3},{"t":2007.5,"a":1.65,"b":1.0,"c":26.15},{"t":2007.583,"a":1.2,"b":0.8,"c":26.35},{"t":2007.667,"a":0.85,"b":0.42,"c":26.2},{"t":2007.75,"a":0.7,"b":0.25,"c":25.95},{"t":2007.833,"a":0.72,"b":0.25,"c":25.7},{"t":2007.917,"a":0.95,"b":0.35,"c":26.2},
{"t":2008,"a":1.3,"b":0.5,"c":26.45},{"t":2008.083,"a":1.65,"b":0.48,"c":26.6},{"t":2008.167,"a":1.98,"b":0.45,"c":26.55},{"t":2008.25,"a":2.16,"b":0.45,"c":26.4},{"t":2008.333,"a":2.2,"b":0.5,"c":26.5},{"t":2008.417,"a":2.02,"b":0.62,"c":26.3},{"t":2008.5,"a":1.65,"b":1.0,"c":26.15},{"t":2008.583,"a":1.2,"b":0.8,"c":26.35},{"t":2008.667,"a":0.85,"b":0.42,"c":26.2},{"t":2008.75,"a":0.7,"b":0.25,"c":25.95},{"t":2008.833,"a":0.72,"b":0.25,"c":25.7},{"t":2008.917,"a":0.95,"b":0.35,"c":26.2},
{"t":2009,"a":1.3,"b":0.5,"c":26.45},{"t":2009.083,"a":1.65,"b":0.48,"c":26.6},{"t":2009.167,"a":1.98,"b":0.45,"c":26.55},{"t":2009.25,"a":2.16,"b":0.45,"c":26.4},{"t":2009.333,"a":2.2,"b":0.5,"c":26.5},{"t":2009.417,"a":2.02,"b":0.62,"c":26.3},{"t":2009.5,"a":1.65,"b":1.0,"c":26.15},{"t":2009.583,"a":1.2,"b":0.8,"c":26.35},{"t":2009.667,"a":0.85,"b":0.42,"c":26.2},{"t":2009.75,"a":0.7,"b":0.25,"c":25.95},{"t":2009.833,"a":0.72,"b":0.25,"c":25.7},{"t":2009.917,"a":0.95,"b":0.35,"c":26.2},
{"t":2010,"a":1.3,"b":0.5,"c":26.45},{"t":2010.083,"a":1.65,"b":0.48,"c":26.6},{"t":2010.167,"a":1.98,"b":0.45,"c":26.55},{"t":2010.25,"a":2.16,"b":0.45,"c":26.4},{"t":2010.333,"a":2.2,"b":0.5,"c":26.5},{"t":2010.417,"a":2.02,"b":0.62,"c":26.3},{"t":2010.5,"a":1.65,"b":1.0,"c":26.15},{"t":2010.583,"a":1.2,"b":0.8,"c":26.35},{"t":2010.667,"a":0.85,"b":0.42,"c":26.2},{"t":2010.75,"a":0.7,"b":0.25,"c":25.95},{"t":2010.833,"a":0.72,"b":0.25,"c":25.7},{"t":2010.917,"a":0.95,"b":0.35,"c":26.2},
{"t":2011,"a":1.3,"b":0.5,"c":26.45},{"t":2011.083,"a":1.65,"b":0.48,"c":26.6},{"t":2011.167,"a":1.98,"b":0.45,"c":26.55},{"t":2011.25,"a":2.16,"b":0.45,"c":26.4},{"t":2011.333,"a":2.2,"b":0.5,"c":26.5},{"t":2011.417,"a":2.02,"b":0.62,"c":26.3},{"t":2011.5,"a":1.65,"b":1.0,"c":26.15},{"t":2011.583,"a":1.2,"b":0.8,"c":26.35},{"t":2011.667,"a":0.85,"b":0.42,"c":26.2},{"t":2011.75,"a":0.7,"b":0.25,"c":25.95},{"t":2011.833,"a":0.72,"b":0.25,"c":25.7},{"t":2011.917,"a":0.95,"b":0.35,"c":26.2},
{"t":2012,"a":1.3,"b":0.5,"c":26.45},{"t":2012.083,"a":1.65,"b":0.48,"c":26.6},{"t":2012.167,"a":1.98,"b":0.45,"c":26.55},{"t":2012.25,"a":2.16,"b":0.45,"c":26.4},{"t":2012.333,"a":2.2,"b":0.5,"c":26.5},{"t":2012.417,"a":2.02,"b":0.62,"c":26.3},{"t":2012.5,"a":1.65,"b":1.0,"c":26.15},{"t":2012.583,"a":1.2,"b":0.8,"c":26.35},{"t":2012.667,"a":0.85,"b":0.42,"c":26.2},{"t":2012.75,"a":0.7,"b":0.25,"c":25.95},{"t":2012.833,"a":0.72,"b":0.25,"c":25.7},{"t":2012.917,"a":0.95,"b":0.35,"c":26.2},
{"t":2013,"a":1.3,"b":0.5,"c":26.45},{"t":2013.083,"a":1.65,"b":0.48,"c":26.6},{"t":2013.167,"a":1.98,"b":0.45,"c":26.55},{"t":2013.25,"a":2.16,"b":0.45,"c":26.4},{"t":2013.333,"a":2.2,"b":0.5,"c":26.5},{"t":2013.417,"a":2.02,"b":0.62,"c":26.3},{"t":2013.5,"a":1.65,"b":1.0,"c":26.15},{"t":2013.583,"a":1.2,"b":0.8,"c":26.35},{"t":2013.667,"a":0.85,"b":0.42,"c":26.2},{"t":2013.75,"a":0.7,"b":0.25,"c":25.95},{"t":2013.833,"a":0.72,"b":0.25,"c":25.7},{"t":2013.917,"a":0.95,"b":0.35,"c":26.2},
{"t":2014,"a":1.3,"b":0.5,"c":26.45},{"t":2014.083,"a":1.65,"b":0.48,"c":26.6},{"t":2014.167,"a":1.98,"b":0.45,"c":26.55},{"t":2014.25,"a":2.16,"b":0.45,"c":26.4},{"t":2014.333,"a":2.2,"b":0.5,"c":26.5},{"t":2014.417,"a":2.02,"b":0.62,"c":26.3},{"t":2014.5,"a":1.65,"b":1.0,"c":26.15},{"t":2014.583,"a":1.2,"b":0.8,"c":26.35},{"t":2014.667,"a":0.85,"b":0.42,"c":26.2},{"t":2014.75,"a":0.7,"b":0.25,"c":25.95},{"t":2014.833,"a":0.72,"b":0.25,"c":25.7},{"t":2014.917,"a":0.95,"b":0.35,"c":26.2},
{"t":2015,"a":1.3,"b":0.5,"c":26.45},{"t":2015.083,"a":1.65,"b":0.48,"c":26.6},{"t":2015.167,"a":1.98,"b":0.45,"c":26.55},{"t":2015.25,"a":2.16,"b":0.45,"c":26.4},{"t":2015.333,"a":2.2,"b":0.5,"c":26.5},{"t":2015.417,"a":2.02,"b":0.62,"c":26.3},{"t":2015.5,"a":1.65,"b":1.0,"c":26.15},{"t":2015.583,"a":1.2,"b":0.8,"c":26.35},{"t":2015.667,"a":0.85,"b":0.42,"c":26.2},{"t":2015.75,"a":0.7,"b":0.25,"c":25.95},{"t":2015.833,"a":0.72,"b":0.25,"c":25.7},{"t":2015.917,"a":0.95,"b":0.35,"c":26.2},
{"t":2016,"a":1.3,"b":0.5,"c":26.45},{"t":2016.083,"a":1.65,"b":0.48,"c":26.6},{"t":2016.167,"a":1.98,"b":0.45,"c":26.55},{"t":2016.25,"a":2.16,"b":0.45,"c":26.4},{"t":2016.333,"a":2.2,"b":0.5,"c":26.5},{"t":2016.417,"a":2.02,"b":0.62,"c":26.3},{"t":2016.5,"a":1.65,"b":1.0,"c":26.15},{"t":2016.583,"a":1.2,"b":0.8,"c":26.35},{"t":2016.667,"a":0.85,"b":0.42,"c":26.2},{"t":2016.75,"a":0.7,"b":0.25,"c":25.95},{"t":2016.833,"a":0.72,"b":0.25,"c":25.7},{"t":2016.917,"a":0.95,"b":0.35,"c":26.2},
{"t":2017,"a":1.3,"b":0.5,"c":26.45},{"t":2017.083,"a":1.65,"b":0.48,"c":26.6},{"t":2017.167,"a":1.98,"b":0.45,"c":26.55},{"t":2017.25,"a":2.16,"b":0.45,"c":26.4},{"t":2017.333,"a":2.2,"b":0.5,"c":26.5},{"t":2017.417,"a":2.02,"b":0.62,"c":26.3},{"t":2017.5,"a":1.65,"b":1.0,"c":26.15},{"t":2017.583,"a":1.2,"b":0.8,"c":26.35},{"t":2017.667,"a":0.85,"b":0.42,"c":26.2},{"t":2017.75,"a":0.7,"b":0.25,"c":25.95},{"t":2017.833,"a":0.72,"b":0.25,"c":25.7},{"t":2017.917,"a":0.95,"b":0.35,"c":26.2},
{"t":2018,"a":1.3,"b":0.5,"c":26.45}
]},
"spacing":33,
"bounds":"flush",
"vconcat":[
{"width":499,"height":81,
 "title":{"text":"×10⁴","anchor":"start","fontSize":11,"fontWeight":"normal","color":"#333","offset":3,"font":"Liberation Sans"},
 "layer":[
  {"data":{"name":"red"},"mark":{"type":"line","color":"#ff0000","strokeWidth":1.1,"clip":true},
   "encoding":{"x":{"field":"t","type":"quantitative","scale":{"domain":[1998,2018],"nice":false,"zero":false},"axis":{"values":[1998,2000,2002,2004,2006,2008,2010,2012,2014,2016,2018],"format":"d","title":null}},
   "y":{"field":"a","type":"quantitative","scale":{"domain":[0,5],"nice":false,"zero":false},"axis":{"values":[0,2,4],"title":"m³/s","titleFontSize":12,"titlePadding":2}}}},
  {"data":{"name":"black"},"mark":{"type":"line","color":"#000000","strokeWidth":1.3,"clip":true},
   "encoding":{"x":{"field":"t","type":"quantitative","scale":{"domain":[1998,2018],"nice":false,"zero":false},"axis":{"orient":"top","values":[1998,2000,2002,2004,2006,2008,2010,2012,2014,2016,2018],"labels":false,"title":null}},
   "y":{"field":"a","type":"quantitative","scale":{"domain":[0,5],"nice":false,"zero":false},"axis":{"orient":"right","values":[0,2,4],"labels":false,"title":"A","titleAngle":0,"titleFontSize":15,"titleFont":"Open Sans","titleFontWeight":"bold","titleAlign":"left","titleBaseline":"middle","titlePadding":6}}}}
 ],
 "resolve":{"axis":{"x":"independent","y":"independent"}}},
{"width":499,"height":79,
 "layer":[
  {"data":{"name":"red"},"mark":{"type":"line","color":"#ff0000","strokeWidth":1.1,"clip":true},
   "encoding":{"x":{"field":"t","type":"quantitative","scale":{"domain":[1998,2018],"nice":false,"zero":false},"axis":{"values":[1998,2000,2002,2004,2006,2008,2010,2012,2014,2016,2018],"format":"d","title":null}},
   "y":{"field":"b","type":"quantitative","scale":{"domain":[0.1,7],"nice":false,"zero":false},"axis":{"values":[2,4,6],"title":"mg/m³","titleFontSize":11,"titlePadding":3}}}},
  {"data":{"name":"black"},"mark":{"type":"line","color":"#000000","strokeWidth":1.3,"clip":true},
   "encoding":{"x":{"field":"t","type":"quantitative","scale":{"domain":[1998,2018],"nice":false,"zero":false},"axis":{"orient":"top","values":[1998,2000,2002,2004,2006,2008,2010,2012,2014,2016,2018],"labels":false,"title":null}},
   "y":{"field":"b","type":"quantitative","scale":{"domain":[0.1,7],"nice":false,"zero":false},"axis":{"orient":"right","values":[2,4,6],"labels":false,"title":"B","titleAngle":0,"titleFontSize":15,"titleFont":"Open Sans","titleFontWeight":"bold","titleAlign":"left","titleBaseline":"middle","titlePadding":6}}}}
 ],
 "resolve":{"axis":{"x":"independent","y":"independent"}}},
{"width":499,"height":80,
 "layer":[
  {"data":{"name":"red"},"mark":{"type":"line","color":"#ff0000","strokeWidth":1.1,"clip":true},
   "encoding":{"x":{"field":"t","type":"quantitative","scale":{"domain":[1998,2018],"nice":false,"zero":false},"axis":{"values":[1998,2000,2002,2004,2006,2008,2010,2012,2014,2016,2018],"format":"d","title":null}},
   "y":{"field":"c","type":"quantitative","scale":{"domain":[24,29],"nice":false,"zero":false},"axis":{"values":[24,26,28],"title":"DegN","titleFontSize":11,"titlePadding":2}}}},
  {"data":{"name":"black"},"mark":{"type":"line","color":"#000000","strokeWidth":1.3,"clip":true},
   "encoding":{"x":{"field":"t","type":"quantitative","scale":{"domain":[1998,2018],"nice":false,"zero":false},"axis":{"orient":"top","values":[1998,2000,2002,2004,2006,2008,2010,2012,2014,2016,2018],"labels":false,"title":null}},
   "y":{"field":"c","type":"quantitative","scale":{"domain":[24,29],"nice":false,"zero":false},"axis":{"orient":"right","values":[24,26,28],"labels":false,"title":"C","titleAngle":0,"titleFontSize":15,"titleFont":"Open Sans","titleFontWeight":"bold","titleAlign":"left","titleBaseline":"middle","titlePadding":6}}}}
 ],
 "resolve":{"axis":{"x":"independent","y":"independent"}}}
]
}
